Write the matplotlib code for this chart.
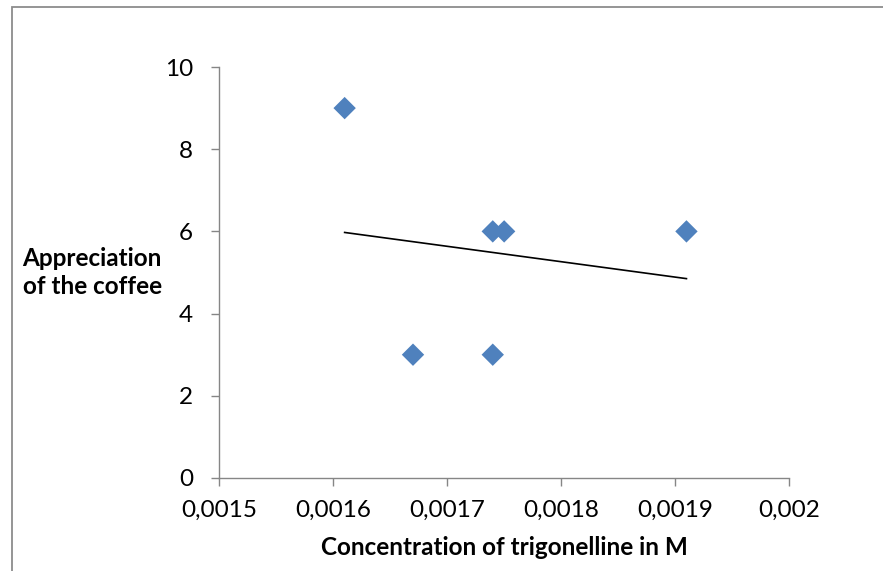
import matplotlib
matplotlib.use("Agg")
from matplotlib import pyplot as plt
from matplotlib.ticker import FuncFormatter
from matplotlib.patches import Rectangle
import numpy as np

# trigonelline concentration (M) vs appreciation score
concentration = [0.00161, 0.00167, 0.00174, 0.00175, 0.00174, 0.00191]
appreciation = [9, 3, 6, 6, 3, 6]

x_ticks = [0.0015, 0.0016, 0.0017, 0.0018, 0.0019, 0.002]
y_ticks = [0, 2, 4, 6, 8, 10]

plt.rcParams['font.family'] = ['Lato', 'DejaVu Sans']

def comma(v, pos):
	return ("%g" % v).replace('.', ',')

def drawGraph():
	fig = plt.figure(figsize=(8.83, 5.71), dpi=100)
	# chart area border (Excel style)
	fig.patches.append(Rectangle((12 / 883, -0.1), 1.2, (571 - 7) / 571 + 0.1,
		transform=fig.transFigure, fill=False, edgecolor='#8c8c8c', linewidth=1.3))
	ax = fig.add_axes([219.3 / 883, (571 - 478) / 571, 569.7 / 883, 411 / 571])

	ax.scatter(concentration, appreciation, marker='D', s=130, color='#4f81bd',
		edgecolors='none', zorder=3)

	# linear trend line
	k, b = np.polyfit(concentration, appreciation, 1)
	xs = np.array([min(concentration), max(concentration)])
	ax.plot(xs, k * xs + b, color='black', linewidth=1.2, zorder=2)

	ax.set_xlim(x_ticks[0], x_ticks[-1])
	ax.set_ylim(y_ticks[0], y_ticks[-1])
	ax.set_xticks(x_ticks)
	ax.set_yticks(y_ticks)
	ax.xaxis.set_major_formatter(FuncFormatter(comma))

	for s in ['top', 'right']:
		ax.spines[s].set_visible(False)
	for s in ['left', 'bottom']:
		ax.spines[s].set_color('#868686')
		ax.spines[s].set_linewidth(1.0)
	ax.tick_params(axis='both', direction='out', length=6, width=1.0,
		color='#868686', labelsize=17.5, labelcolor='black')
	ax.tick_params(axis='y', pad=13)
	ax.tick_params(axis='x', pad=10)

	ax.set_xlabel('Concentration of trigonelline in M', fontsize=17.5, fontweight='bold',
		va='center')
	ax.xaxis.set_label_coords(0.5, -0.170)
	ax.set_ylabel('Appreciation\nof the coffee', fontsize=17.5, fontweight='bold',
		rotation=0, ha='center', va='center', linespacing=1.25)
	ax.yaxis.set_label_coords(-0.223, 0.5)

	fig.savefig('out.png', dpi=100)

def main():
	drawGraph()

if __name__ == "__main__":
	main()
